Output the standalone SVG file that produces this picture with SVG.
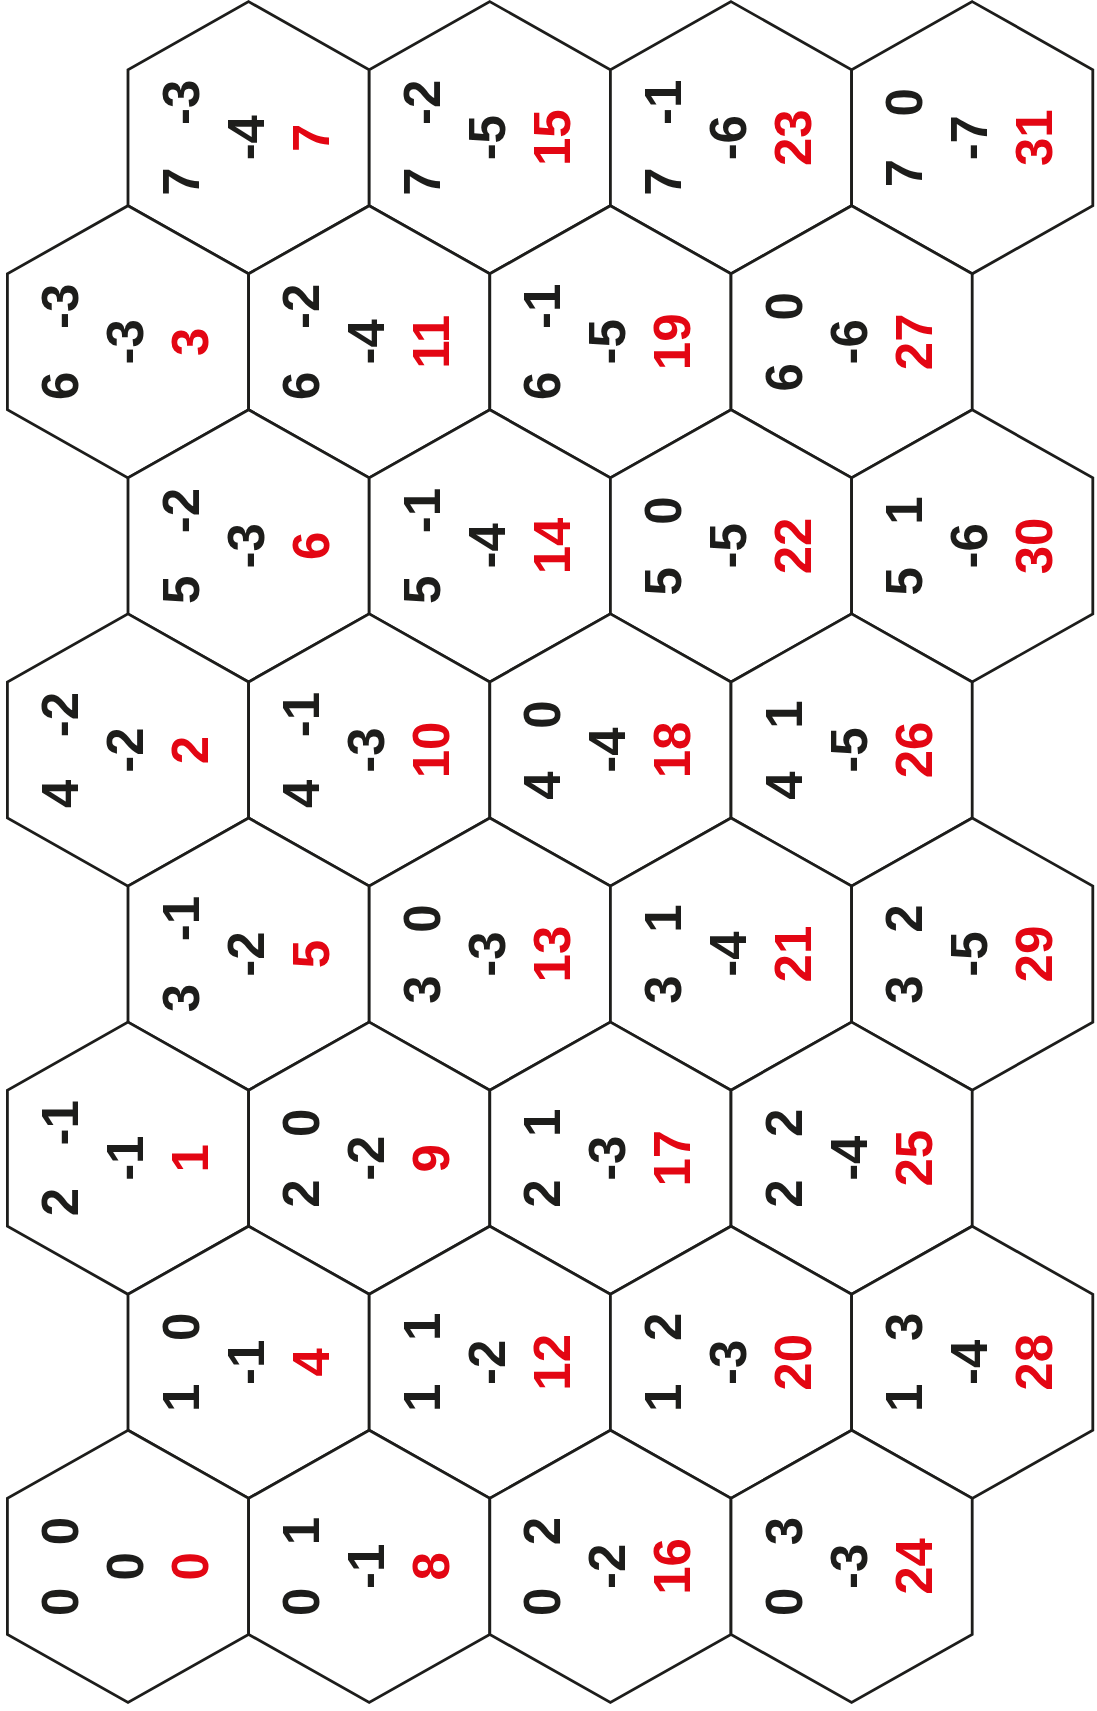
<svg xmlns="http://www.w3.org/2000/svg" xmlns:xlink="http://www.w3.org/1999/xlink" width="1097" height="1711" viewBox="0 0 1097 1711">
<style>
.hx{fill:#fff;stroke:#1d1d1b;stroke-width:2.8;stroke-linejoin:miter}
text{font-family:"Liberation Sans",Arial,sans-serif;font-weight:bold;font-size:51px;text-anchor:middle}
.c{fill:#1d1d1b}
.r{fill:#e30613}
</style>
<defs>
<polygon id="hex" class="hx" points="0,-136.1 120.6,-68 120.6,68 0,136.1 -120.6,68 -120.6,-68"/>
</defs>
<rect width="1097" height="1711" fill="#fff"/>
<g id="connectors"></g>
<!-- row 0 -->
<g id="hex-7" transform="translate(248.6,137.7)"><use href="#hex"/><text class="c" transform="translate(-50,0) rotate(-90)">7&#160;&#160;&#160;-3</text><text class="c" transform="translate(15,0) rotate(-90)">-4</text><text class="r" transform="translate(80,0) rotate(-90)">7</text></g>
<g id="hex-15" transform="translate(489.8,137.7)"><use href="#hex"/><text class="c" transform="translate(-50,0) rotate(-90)">7&#160;&#160;&#160;-2</text><text class="c" transform="translate(15,0) rotate(-90)">-5</text><text class="r" transform="translate(80,0) rotate(-90)">15</text></g>
<g id="hex-23" transform="translate(731,137.7)"><use href="#hex"/><text class="c" transform="translate(-50,0) rotate(-90)">7&#160;&#160;&#160;-1</text><text class="c" transform="translate(15,0) rotate(-90)">-6</text><text class="r" transform="translate(80,0) rotate(-90)">23</text></g>
<g id="hex-31" transform="translate(972.2,137.7)"><use href="#hex"/><text class="c" transform="translate(-50,0) rotate(-90)">7&#160;&#160;&#160;0</text><text class="c" transform="translate(15,0) rotate(-90)">-7</text><text class="r" transform="translate(80,0) rotate(-90)">31</text></g>
<!-- row 1 -->
<g id="hex-3" transform="translate(128,341.8)"><use href="#hex"/><text class="c" transform="translate(-50,0) rotate(-90)">6&#160;&#160;&#160;-3</text><text class="c" transform="translate(15,0) rotate(-90)">-3</text><text class="r" transform="translate(80,0) rotate(-90)">3</text></g>
<g id="hex-11" transform="translate(369.2,341.8)"><use href="#hex"/><text class="c" transform="translate(-50,0) rotate(-90)">6&#160;&#160;&#160;-2</text><text class="c" transform="translate(15,0) rotate(-90)">-4</text><text class="r" transform="translate(80,0) rotate(-90)">11</text></g>
<g id="hex-19" transform="translate(610.4,341.8)"><use href="#hex"/><text class="c" transform="translate(-50,0) rotate(-90)">6&#160;&#160;&#160;-1</text><text class="c" transform="translate(15,0) rotate(-90)">-5</text><text class="r" transform="translate(80,0) rotate(-90)">19</text></g>
<g id="hex-27" transform="translate(851.6,341.8)"><use href="#hex"/><text class="c" transform="translate(-50,0) rotate(-90)">6&#160;&#160;&#160;0</text><text class="c" transform="translate(15,0) rotate(-90)">-6</text><text class="r" transform="translate(80,0) rotate(-90)">27</text></g>
<!-- row 2 -->
<g id="hex-6" transform="translate(248.6,545.9)"><use href="#hex"/><text class="c" transform="translate(-50,0) rotate(-90)">5&#160;&#160;&#160;-2</text><text class="c" transform="translate(15,0) rotate(-90)">-3</text><text class="r" transform="translate(80,0) rotate(-90)">6</text></g>
<g id="hex-14" transform="translate(489.8,545.9)"><use href="#hex"/><text class="c" transform="translate(-50,0) rotate(-90)">5&#160;&#160;&#160;-1</text><text class="c" transform="translate(15,0) rotate(-90)">-4</text><text class="r" transform="translate(80,0) rotate(-90)">14</text></g>
<g id="hex-22" transform="translate(731,545.9)"><use href="#hex"/><text class="c" transform="translate(-50,0) rotate(-90)">5&#160;&#160;&#160;0</text><text class="c" transform="translate(15,0) rotate(-90)">-5</text><text class="r" transform="translate(80,0) rotate(-90)">22</text></g>
<g id="hex-30" transform="translate(972.2,545.9)"><use href="#hex"/><text class="c" transform="translate(-50,0) rotate(-90)">5&#160;&#160;&#160;1</text><text class="c" transform="translate(15,0) rotate(-90)">-6</text><text class="r" transform="translate(80,0) rotate(-90)">30</text></g>
<!-- row 3 -->
<g id="hex-2" transform="translate(128,750)"><use href="#hex"/><text class="c" transform="translate(-50,0) rotate(-90)">4&#160;&#160;&#160;-2</text><text class="c" transform="translate(15,0) rotate(-90)">-2</text><text class="r" transform="translate(80,0) rotate(-90)">2</text></g>
<g id="hex-10" transform="translate(369.2,750)"><use href="#hex"/><text class="c" transform="translate(-50,0) rotate(-90)">4&#160;&#160;&#160;-1</text><text class="c" transform="translate(15,0) rotate(-90)">-3</text><text class="r" transform="translate(80,0) rotate(-90)">10</text></g>
<g id="hex-18" transform="translate(610.4,750)"><use href="#hex"/><text class="c" transform="translate(-50,0) rotate(-90)">4&#160;&#160;&#160;0</text><text class="c" transform="translate(15,0) rotate(-90)">-4</text><text class="r" transform="translate(80,0) rotate(-90)">18</text></g>
<g id="hex-26" transform="translate(851.6,750)"><use href="#hex"/><text class="c" transform="translate(-50,0) rotate(-90)">4&#160;&#160;&#160;1</text><text class="c" transform="translate(15,0) rotate(-90)">-5</text><text class="r" transform="translate(80,0) rotate(-90)">26</text></g>
<!-- row 4 -->
<g id="hex-5" transform="translate(248.6,954.1)"><use href="#hex"/><text class="c" transform="translate(-50,0) rotate(-90)">3&#160;&#160;&#160;-1</text><text class="c" transform="translate(15,0) rotate(-90)">-2</text><text class="r" transform="translate(80,0) rotate(-90)">5</text></g>
<g id="hex-13" transform="translate(489.8,954.1)"><use href="#hex"/><text class="c" transform="translate(-50,0) rotate(-90)">3&#160;&#160;&#160;0</text><text class="c" transform="translate(15,0) rotate(-90)">-3</text><text class="r" transform="translate(80,0) rotate(-90)">13</text></g>
<g id="hex-21" transform="translate(731,954.1)"><use href="#hex"/><text class="c" transform="translate(-50,0) rotate(-90)">3&#160;&#160;&#160;1</text><text class="c" transform="translate(15,0) rotate(-90)">-4</text><text class="r" transform="translate(80,0) rotate(-90)">21</text></g>
<g id="hex-29" transform="translate(972.2,954.1)"><use href="#hex"/><text class="c" transform="translate(-50,0) rotate(-90)">3&#160;&#160;&#160;2</text><text class="c" transform="translate(15,0) rotate(-90)">-5</text><text class="r" transform="translate(80,0) rotate(-90)">29</text></g>
<!-- row 5 -->
<g id="hex-1" transform="translate(128,1158.2)"><use href="#hex"/><text class="c" transform="translate(-50,0) rotate(-90)">2&#160;&#160;&#160;-1</text><text class="c" transform="translate(15,0) rotate(-90)">-1</text><text class="r" transform="translate(80,0) rotate(-90)">1</text></g>
<g id="hex-9" transform="translate(369.2,1158.2)"><use href="#hex"/><text class="c" transform="translate(-50,0) rotate(-90)">2&#160;&#160;&#160;0</text><text class="c" transform="translate(15,0) rotate(-90)">-2</text><text class="r" transform="translate(80,0) rotate(-90)">9</text></g>
<g id="hex-17" transform="translate(610.4,1158.2)"><use href="#hex"/><text class="c" transform="translate(-50,0) rotate(-90)">2&#160;&#160;&#160;1</text><text class="c" transform="translate(15,0) rotate(-90)">-3</text><text class="r" transform="translate(80,0) rotate(-90)">17</text></g>
<g id="hex-25" transform="translate(851.6,1158.2)"><use href="#hex"/><text class="c" transform="translate(-50,0) rotate(-90)">2&#160;&#160;&#160;2</text><text class="c" transform="translate(15,0) rotate(-90)">-4</text><text class="r" transform="translate(80,0) rotate(-90)">25</text></g>
<!-- row 6 -->
<g id="hex-4" transform="translate(248.6,1362.3)"><use href="#hex"/><text class="c" transform="translate(-50,0) rotate(-90)">1&#160;&#160;&#160;0</text><text class="c" transform="translate(15,0) rotate(-90)">-1</text><text class="r" transform="translate(80,0) rotate(-90)">4</text></g>
<g id="hex-12" transform="translate(489.8,1362.3)"><use href="#hex"/><text class="c" transform="translate(-50,0) rotate(-90)">1&#160;&#160;&#160;1</text><text class="c" transform="translate(15,0) rotate(-90)">-2</text><text class="r" transform="translate(80,0) rotate(-90)">12</text></g>
<g id="hex-20" transform="translate(731,1362.3)"><use href="#hex"/><text class="c" transform="translate(-50,0) rotate(-90)">1&#160;&#160;&#160;2</text><text class="c" transform="translate(15,0) rotate(-90)">-3</text><text class="r" transform="translate(80,0) rotate(-90)">20</text></g>
<g id="hex-28" transform="translate(972.2,1362.3)"><use href="#hex"/><text class="c" transform="translate(-50,0) rotate(-90)">1&#160;&#160;&#160;3</text><text class="c" transform="translate(15,0) rotate(-90)">-4</text><text class="r" transform="translate(80,0) rotate(-90)">28</text></g>
<!-- row 7 -->
<g id="hex-0" transform="translate(128,1566.4)"><use href="#hex"/><text class="c" transform="translate(-50,0) rotate(-90)">0&#160;&#160;&#160;0</text><text class="c" transform="translate(15,0) rotate(-90)">0</text><text class="r" transform="translate(80,0) rotate(-90)">0</text></g>
<g id="hex-8" transform="translate(369.2,1566.4)"><use href="#hex"/><text class="c" transform="translate(-50,0) rotate(-90)">0&#160;&#160;&#160;1</text><text class="c" transform="translate(15,0) rotate(-90)">-1</text><text class="r" transform="translate(80,0) rotate(-90)">8</text></g>
<g id="hex-16" transform="translate(610.4,1566.4)"><use href="#hex"/><text class="c" transform="translate(-50,0) rotate(-90)">0&#160;&#160;&#160;2</text><text class="c" transform="translate(15,0) rotate(-90)">-2</text><text class="r" transform="translate(80,0) rotate(-90)">16</text></g>
<g id="hex-24" transform="translate(851.6,1566.4)"><use href="#hex"/><text class="c" transform="translate(-50,0) rotate(-90)">0&#160;&#160;&#160;3</text><text class="c" transform="translate(15,0) rotate(-90)">-3</text><text class="r" transform="translate(80,0) rotate(-90)">24</text></g>
</svg>
